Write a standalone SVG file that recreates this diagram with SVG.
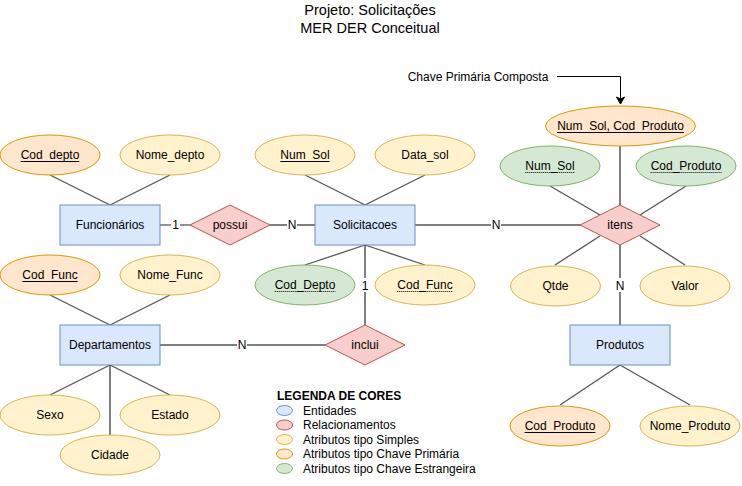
<svg xmlns="http://www.w3.org/2000/svg" width="742" height="486" viewBox="0 0 742 486">
<defs>
<marker id="arr" markerWidth="10" markerHeight="10" refX="8" refY="5" orient="auto" markerUnits="userSpaceOnUse">
<path d="M1,1 L8,5 L1,9 L3,5 Z" fill="#000" stroke="#000" stroke-width="1"/>
</marker>
<style>
text{font-family:"Liberation Sans",Arial,sans-serif;font-size:12px;fill:#000;text-anchor:middle}
.ent{fill:#dae8fc;stroke:#6c8ebf;stroke-width:1}
.rel{fill:#f8cecc;stroke:#b85450;stroke-width:1}
.sim{fill:#fff2cc;stroke:#d6b656;stroke-width:1}
.pk{fill:#ffe6cc;stroke:#d79b00;stroke-width:1}
.fk{fill:#d5e8d4;stroke:#82b366;stroke-width:1}
.ln{stroke:#555;stroke-width:1.3;fill:none}
.lk{stroke:#000;stroke-width:1;fill:none}
.ul{stroke:#000;stroke-width:1}
.dul{stroke:#000;stroke-width:1;stroke-dasharray:1,1}
.lbl{fill:#fff}
.title{font-size:14.5px}
.leg{text-anchor:start}
</style>
</defs>
<rect width="742" height="486" fill="#fff"/>
<g id="title">
<text class="title" x="370" y="15">Projeto: Solicitações</text>
<text class="title" x="370" y="33">MER DER Conceitual</text>
</g>
<g id="connectors">
<line class="ln" x1="50" y1="175" x2="110" y2="205"/>
<line class="ln" x1="170" y1="175" x2="110" y2="205"/>
<line class="ln" x1="305" y1="175" x2="365" y2="205"/>
<line class="ln" x1="425" y1="175" x2="365" y2="205"/>
<line class="ln" x1="365" y1="245" x2="305" y2="265"/>
<line class="ln" x1="365" y1="245" x2="425" y2="265"/>
<line class="lk" x1="365" y1="245" x2="365" y2="325"/>
<line class="ln" x1="50" y1="295" x2="110" y2="325"/>
<line class="ln" x1="170" y1="295" x2="110" y2="325"/>
<line class="ln" x1="110" y1="365" x2="50" y2="395"/>
<line class="ln" x1="110" y1="365" x2="170" y2="395"/>
<line class="lk" x1="110" y1="365" x2="110" y2="435"/>
<line class="ln" x1="160" y1="225" x2="190" y2="225"/>
<line class="ln" x1="270" y1="225" x2="315" y2="225"/>
<line class="ln" x1="415" y1="225" x2="580" y2="225"/>
<line class="ln" x1="160" y1="345" x2="325" y2="345"/>
<line class="lk" x1="620" y1="146" x2="620" y2="205"/>
<line class="ln" x1="550" y1="186" x2="600" y2="215"/>
<line class="ln" x1="686" y1="186" x2="640" y2="215"/>
<line class="ln" x1="600" y1="236" x2="555" y2="265"/>
<line class="ln" x1="640" y1="236" x2="685" y2="265"/>
<line class="lk" x1="620" y1="245" x2="620" y2="325"/>
<line class="ln" x1="620" y1="365" x2="560" y2="405"/>
<line class="ln" x1="620" y1="365" x2="690" y2="405"/>
<polyline class="lk" points="557,76.5 620.5,76.5 620.5,104" marker-end="url(#arr)"/>
<rect class="lbl" x="171" y="218" width="9" height="14"/>
<text x="175.5" y="229">1</text>
<rect class="lbl" x="287" y="218" width="10" height="14"/>
<text x="292" y="229">N</text>
<rect class="lbl" x="491" y="218" width="10" height="14"/>
<text x="496" y="229">N</text>
<rect class="lbl" x="237" y="338" width="10" height="14"/>
<text x="242" y="349">N</text>
<rect class="lbl" x="360" y="278" width="10" height="14"/>
<text x="365" y="290">1</text>
<rect class="lbl" x="615" y="278" width="10" height="14"/>
<text x="620" y="290">N</text>
<text x="478" y="81" style="text-anchor:middle">Chave Primária Composta</text>
</g>
<g id="Cod_depto">
<ellipse class="pk" cx="50" cy="155" rx="50" ry="20"/>
<text x="50" y="159">Cod_depto</text>
<line class="ul" x1="20.7" y1="161.5" x2="79.3" y2="161.5"/>
</g>
<g id="Nome_depto">
<ellipse class="sim" cx="170" cy="155" rx="50" ry="20"/>
<text x="170" y="159">Nome_depto</text>
</g>
<g id="Funcionarios">
<rect class="ent" x="60" y="205" width="100" height="40"/>
<text x="110" y="229">Funcionários</text>
</g>
<g id="possui">
<polygon class="rel" points="190,225 230,205 270,225 230,245"/>
<text x="230" y="229">possui</text>
</g>
<g id="Num_Sol">
<ellipse class="sim" cx="305" cy="155" rx="50" ry="20"/>
<text x="305" y="159">Num_Sol</text>
<line class="ul" x1="280.3" y1="161.5" x2="329.7" y2="161.5"/>
</g>
<g id="Data_sol">
<ellipse class="sim" cx="425" cy="155" rx="50" ry="20"/>
<text x="425" y="159">Data_sol</text>
</g>
<g id="Solicitacoes">
<rect class="ent" x="315" y="205" width="100" height="40"/>
<text x="365" y="229">Solicitacoes</text>
</g>
<g id="Cod_Depto_fk">
<ellipse class="fk" cx="305" cy="285" rx="50" ry="20"/>
<text x="305" y="289">Cod_Depto</text>
<line class="dul" x1="274.7" y1="291.5" x2="335.3" y2="291.5"/>
</g>
<g id="Cod_Func_fk">
<ellipse class="sim" cx="425" cy="285" rx="50" ry="20"/>
<text x="425" y="289">Cod_Func</text>
<line class="dul" x1="397.3" y1="291.5" x2="452.7" y2="291.5"/>
</g>
<g id="inclui">
<polygon class="rel" points="325,345 365,325 405,345 365,365"/>
<text x="365" y="349">inclui</text>
</g>
<g id="Cod_Func">
<ellipse class="pk" cx="50" cy="275" rx="50" ry="20"/>
<text x="50" y="279">Cod_Func</text>
<line class="ul" x1="22.3" y1="281.5" x2="77.7" y2="281.5"/>
</g>
<g id="Nome_Func">
<ellipse class="sim" cx="170" cy="275" rx="50" ry="20"/>
<text x="170" y="279">Nome_Func</text>
</g>
<g id="Departamentos">
<rect class="ent" x="60" y="325" width="100" height="40"/>
<text x="110" y="349">Departamentos</text>
</g>
<g id="Sexo">
<ellipse class="sim" cx="50" cy="415" rx="50" ry="20"/>
<text x="50" y="419">Sexo</text>
</g>
<g id="Estado">
<ellipse class="sim" cx="170" cy="415" rx="50" ry="20"/>
<text x="170" y="419">Estado</text>
</g>
<g id="Cidade">
<ellipse class="sim" cx="110" cy="455" rx="50" ry="20"/>
<text x="110" y="459">Cidade</text>
</g>
<g id="NumSol_CodProduto">
<ellipse class="pk" cx="620.5" cy="126" rx="75" ry="20"/>
<text x="620.5" y="130">Num_Sol, Cod_Produto</text>
<line class="ul" x1="557" y1="132.5" x2="684" y2="132.5"/>
</g>
<g id="Num_Sol_fk">
<ellipse class="fk" cx="550" cy="166" rx="50" ry="20"/>
<text x="550" y="170">Num_Sol</text>
<line class="dul" x1="525.3" y1="172.5" x2="574.7" y2="172.5"/>
</g>
<g id="Cod_Produto_fk">
<ellipse class="fk" cx="686" cy="166" rx="50" ry="20"/>
<text x="686" y="170">Cod_Produto</text>
<line class="dul" x1="650.6" y1="172.5" x2="721.4" y2="172.5"/>
</g>
<g id="itens">
<polygon class="rel" points="580,225 620,205 660,225 620,245"/>
<text x="620" y="229">itens</text>
</g>
<g id="Qtde">
<ellipse class="sim" cx="555.5" cy="286" rx="45" ry="20"/>
<text x="555.5" y="290">Qtde</text>
</g>
<g id="Valor">
<ellipse class="sim" cx="685" cy="286" rx="45" ry="20"/>
<text x="685" y="290">Valor</text>
</g>
<g id="Produtos">
<rect class="ent" x="570" y="325" width="100" height="40"/>
<text x="620" y="349">Produtos</text>
</g>
<g id="Cod_Produto">
<ellipse class="pk" cx="560" cy="426" rx="50" ry="20"/>
<text x="560" y="430">Cod_Produto</text>
<line class="ul" x1="524.6" y1="432.5" x2="595.4" y2="432.5"/>
</g>
<g id="Nome_Produto">
<ellipse class="sim" cx="690" cy="426" rx="50" ry="20"/>
<text x="690" y="430">Nome_Produto</text>
</g>
<g id="legend">
<text class="leg" x="277" y="400" style="font-weight:bold">LEGENDA DE CORES</text>
<ellipse class="ent" cx="284.5" cy="410.5" rx="8" ry="5"/>
<text class="leg" x="303" y="414.5">Entidades</text>
<ellipse class="rel" cx="284.5" cy="425" rx="8" ry="5"/>
<text class="leg" x="303" y="429">Relacionamentos</text>
<ellipse class="sim" cx="284.5" cy="439.5" rx="8" ry="5"/>
<text class="leg" x="303" y="443.5">Atributos tipo Simples</text>
<ellipse class="pk" cx="284.5" cy="454" rx="8" ry="5"/>
<text class="leg" x="303" y="458">Atributos tipo Chave Primária</text>
<ellipse class="fk" cx="284.5" cy="468.5" rx="8" ry="5"/>
<text class="leg" x="303" y="472.5">Atributos tipo Chave Estrangeira</text>
</g>
</svg>
